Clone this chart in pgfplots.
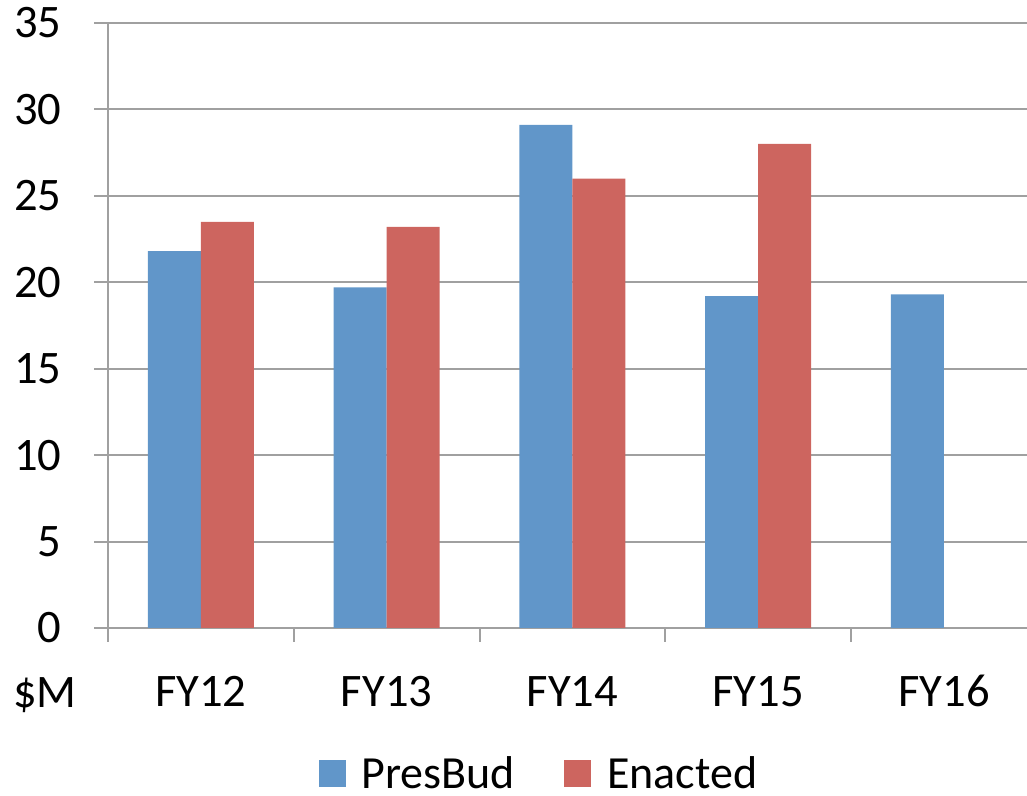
\documentclass[border=0pt]{standalone}
\usepackage{fontspec}
\setmainfont{Carlito}
\usepackage{pgfplots}
\pgfplotsset{compat=1.18}

\definecolor{presblue}{RGB}{97,150,201}
\definecolor{enactred}{RGB}{205,101,95}
\definecolor{gridgray}{RGB}{160,160,160}

\begin{document}
\begin{tikzpicture}
\useasboundingbox (0,0) rectangle (513.5pt,398pt);
\begin{axis}[
    at={(54pt,84pt)}, anchor=south west,
    scale only axis,
    width=459.5pt, height=302.5pt,
    ybar=0pt,
    bar width=26.5pt,
    xmin=-0.5, xmax=4.447,
    ymin=0, ymax=35,
    ytick={0,5,...,35},
    xtick={0,1,2,3,4},
    xticklabels={FY12,FY13,FY14,FY15,FY16},
    minor xtick={-0.5,0.5,1.5,2.5,3.5},
    axis x line*=bottom,
    axis y line*=left,
    axis line style={gridgray, line width=1pt},
    ymajorgrids,
    grid style={gridgray, line width=1pt},
    tick align=outside,
    major tick length=7pt,
    minor tick length=7pt,
    tick style={gridgray, line width=1pt},
    major x tick style={draw=none},
    ticklabel style={font=\fontsize{23.3}{28}\selectfont, text=black},
    /pgf/number format/assume math mode=true,
    yticklabel style={anchor=east, inner sep=0pt, xshift=-16pt},
    xticklabel style={anchor=base, inner sep=0pt, yshift=-32.5pt},
    legend style={at={(0.470,-0.2413)}, anchor=center, draw=none,
        font=\fontsize{23}{28}\selectfont, legend columns=2,
        /tikz/every odd column/.append style={column sep=6pt},
        /tikz/every even column/.append style={column sep=22.5pt},
        inner sep=0pt},
    legend image code/.code={\fill[#1] (0pt,-6.75pt) rectangle (13.5pt,6.75pt);},
    clip=false,
]
\addplot[fill=presblue, draw=none] coordinates {(0,21.8) (1,19.7) (2,29.1) (3,19.2) (4,19.3)};
\addplot[fill=enactred, draw=none] coordinates {(0,23.5) (1,23.2) (2,26.0) (3,28.0)};
\legend{PresBud, Enacted}
\node[anchor=base, inner sep=0pt, font=\fontsize{23.3}{28}\selectfont] at (axis description cs:-0.0686,-0.1306) {\$M};
\end{axis}
\end{tikzpicture}
\end{document}
